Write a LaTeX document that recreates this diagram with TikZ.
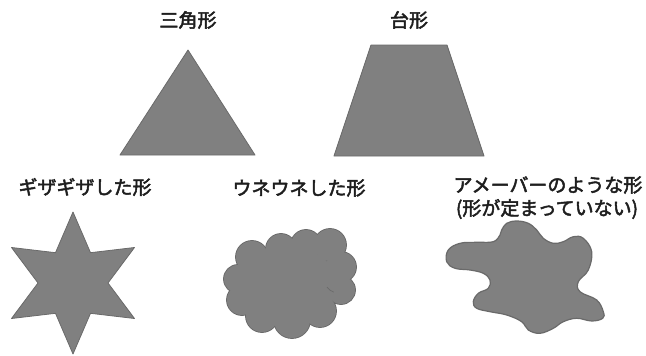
\documentclass[tikz,border=0pt]{standalone}
\usepackage{fontspec}
\newfontfamily\jp{Noto Sans CJK JP}[FakeBold=2.5]
\definecolor{shapegray}{HTML}{808080}
\definecolor{edgegray}{HTML}{6A6A6A}
\definecolor{txt}{HTML}{1E1E1E}
\begin{document}
\begin{tikzpicture}[x=1pt,y=-1pt,
  shapefill/.style={fill=shapegray, draw=edgegray, line width=0.8pt, line join=round},
  lbl/.style={font=\jp\fontsize{19}{23}\selectfont, text=txt, inner sep=0pt, align=center}]
\useasboundingbox[fill=white] (0,0) rectangle (646,356);

% labels
\node[lbl] (ltri) at (188,20) {三角形};
\node[lbl] (ltrap) at (409,20) {台形};
\node[lbl] (lstar) at (85,187) {ギザギザした形};
\node[lbl] (lcloud) at (299,188) {ウネウネした形};
\node[lbl] (lamoeba1) at (548,185) {アメーバーのような形};
\node[lbl] (lamoeba2) at (547,209) {(形が定まっていない)};

% triangle
\draw[shapefill] (188,50) -- (255,155) -- (120,155) -- cycle;

% trapezoid
\draw[shapefill] (371,45) -- (447,45) -- (484,156) -- (334,156) -- cycle;

% star
\draw[shapefill]
  \foreach \a [count=\i] in {90,150,...,420} {
    \ifnum\i=1 ({73+71*cos(\a)},{283-71*sin(\a)}) \else -- ({73+71*cos(\a)},{283-71*sin(\a)}) \fi
    -- ({73+35*cos(\a+30)},{283-35*sin(\a+30)})
  } -- cycle;

% cloud: outline then fill
\foreach \cx/\cy/\r in {252/257/16, 281/249/15, 306/245/15, 330/245/16, 341/267/15, 341/290/14, 320/311/16, 292/320/18, 262/316/16, 242/300/15, 238/279/14}
  \draw[edgegray, line width=1.8pt] (\cx,\cy) circle[radius=\r pt];
\foreach \cx/\cy/\r in {252/257/16, 281/249/15, 306/245/15, 330/245/16, 341/267/15, 341/290/14, 320/311/16, 292/320/18, 262/316/16, 242/300/15, 238/279/14}
  \fill[shapegray] (\cx,\cy) circle[radius=\r pt];
\fill[shapegray] (290,283) ellipse[x radius=46pt, y radius=36pt];
\draw[edgegray, line width=0.7pt] (327,287) arc[start angle=215, end angle=250, radius=14pt];

% amoeba
\draw[shapefill, line width=1.2pt] plot[smooth cycle, tension=0.65] coordinates {
  (501.7,230) (506.7,223.3) (516.7,221) (528.3,223.3) (536.7,230) (543.3,238.3)
  (553.3,243.3) (563.3,241.7) (573.3,236.7) (583.3,238.3) (591.7,251.7) (588.3,270)
  (578.3,281.7) (580,291.7) (596.7,300) (603.3,311.7) (602.7,318.3) (591.7,321)
  (576.7,318.3) (563.3,321.7) (553.3,328.3) (540,333.3) (528.3,330) (521.7,321.7)
  (506.7,315) (490,311.7) (476.7,308.3) (473.3,301.7) (478.3,293.3) (488.3,288.3)
  (490,280) (483.3,273.3) (470,270) (455,268.3) (446.7,261.7) (448.3,250)
  (460,243.3) (476.7,242.3) (493.3,241.7) (500,235)};
\end{tikzpicture}
\end{document}
